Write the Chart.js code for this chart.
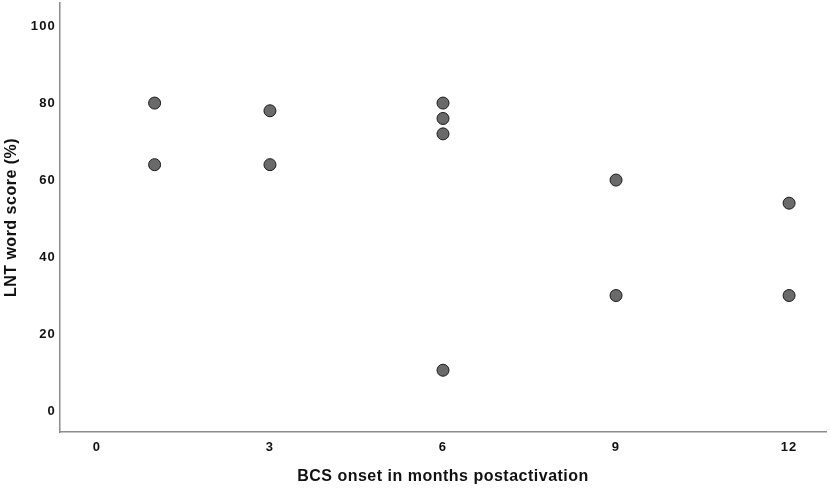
<!DOCTYPE html>
<html>
<head>
<meta charset="utf-8">
<script src="https://cdn.jsdelivr.net/npm/chart.js@4"></script>
<style>
  html, body { margin: 0; padding: 0; background: #fff; }
  #wrap { width: 830px; height: 488px; }
</style>
</head>
<body>
<div id="wrap"><canvas id="chart"></canvas></div>
<script>
// onset month (x) vs LNT word score (y)
const onsetMonths = [1, 1, 3, 3, 6, 6, 6, 6, 9, 9, 12, 12];
const wordScores = [80, 64, 78, 64, 80, 76, 72, 10.6, 60, 30, 54, 30];
const xTicks = [0, 3, 6, 9, 12];
const yTicks = [0, 20, 40, 60, 80, 100];

const points = onsetMonths.map((m, i) => ({ x: m, y: wordScores[i] }));

const tickFont = { family: 'Liberation Sans, Arial, sans-serif', size: 13, weight: 'bold' };
const titleFont = { family: 'Liberation Sans, Arial, sans-serif', size: 16, weight: 'bold' };

const TICK_SPACING = '1.2px';
const TITLE_SPACING = '0.5px';

// tick labels in the reference are spaced out, titles a bit less
const spacing = {
  id: 'spacing',
  beforeUpdate(chart) { chart.ctx.letterSpacing = TICK_SPACING; },
  afterUpdate(chart) {
    Object.values(chart.scales).forEach((s) => {
      if (s._spacingPatched) return;
      const orig = s.drawTitle.bind(s);
      s.drawTitle = function (...args) {
        const ctx = this.ctx;
        ctx.letterSpacing = TITLE_SPACING;
        orig(...args);
        ctx.letterSpacing = TICK_SPACING;
      };
      s._spacingPatched = true;
    });
  },
  beforeDraw(chart) { chart.ctx.letterSpacing = TICK_SPACING; },
};

new Chart(document.getElementById('chart'), {
  type: 'scatter',
  data: {
    datasets: [{
      data: points,
      backgroundColor: '#6a6a6a',
      borderColor: '#1a1a1a',
      borderWidth: 1,
      pointRadius: 6,
      pointHoverRadius: 6,
    }],
  },
  plugins: [spacing],
  options: {
    responsive: true,
    maintainAspectRatio: false,
    animation: false,
    layout: { autoPadding: false, padding: { top: 3, right: 4, left: 0, bottom: 0 } },
    plugins: { legend: { display: false }, tooltip: { enabled: false } },
    scales: {
      x: {
        type: 'linear',
        min: -0.64,
        max: 12.64,
        afterBuildTicks: (s) => { s.ticks = xTicks.map(v => ({ value: v })); },
        afterFit: (s) => { s.height = 56; s.paddingLeft = 0; s.paddingRight = 0; },
        grid: { display: false, drawTicks: false },
        border: { display: true, color: '#8c8c8c', width: 1.5 },
        ticks: { color: '#111', font: tickFont, padding: 8 },
        title: { display: true, text: 'BCS onset in months postactivation', color: '#111', font: titleFont, padding: { top: 6, bottom: 2 } },
      },
      y: {
        type: 'linear',
        min: -5.45,
        max: 106,
        afterBuildTicks: (s) => { s.ticks = yTicks.map(v => ({ value: v })); },
        afterFit: (s) => { s.width = 60; s.paddingTop = 0; s.paddingBottom = 0; },
        grid: { display: false, drawTicks: false },
        border: { display: true, color: '#8c8c8c', width: 1.5 },
        ticks: { color: '#111', font: tickFont, padding: 4 },
        title: { display: true, text: 'LNT word score (%)', color: '#111', font: titleFont, padding: { top: 2, bottom: 0 } },
      },
    },
  },
});
</script>
</body>
</html>
